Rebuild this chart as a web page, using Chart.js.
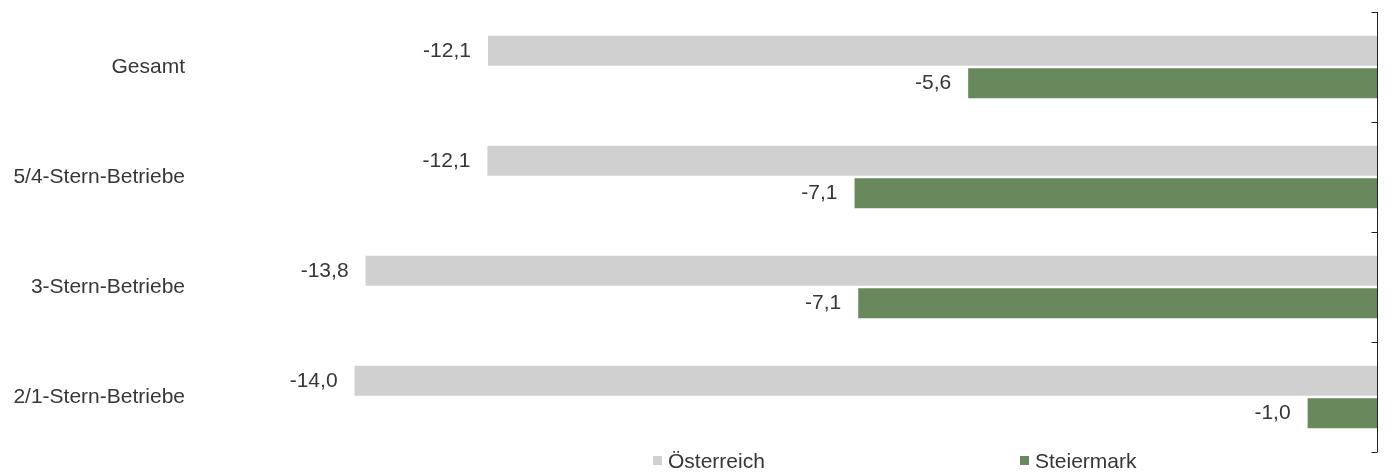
<!DOCTYPE html>
<html>
<head>
<meta charset="utf-8">
<script src="https://cdn.jsdelivr.net/npm/chart.js@4"></script>
<style>
html, body { margin: 0; padding: 0; background: #fff; }
</style>
</head>
<body>
<canvas id="barChart" width="1391" height="476"></canvas>
<script>
const categories = ['Gesamt', '5/4-Stern-Betriebe', '3-Stern-Betriebe', '2/1-Stern-Betriebe'];
const seriesNames = ['Österreich', 'Steiermark'];
const oesterreich = [-12.14, -12.148, -13.81, -13.96];
const steiermark = [-5.59, -7.14, -7.09, -0.96];
const seriesColors = ['#d0d0d0', '#67895b'];
const xMin = -16;
const xMax = 0;

const fontFamily = "'Liberation Sans', Arial, sans-serif";
const textColor = '#363636';

// axis line on the right (at 0) with inward ticks between the categories
const rightAxis = {
    id: 'rightAxis',
    afterDatasetsDraw(chart) {
        const {ctx, chartArea, scales} = chart;
        const x0 = Math.round(scales.x.getPixelForValue(0)) - 0.5;
        ctx.save();
        ctx.strokeStyle = '#222';
        ctx.lineWidth = 1;
        ctx.beginPath();
        ctx.moveTo(x0, chartArea.top);
        ctx.lineTo(x0, chartArea.bottom);
        for (let i = 0; i <= categories.length; i++) {
            const y = Math.round(scales.y.getPixelForValue(i - 0.5)) + 0.5;
            ctx.moveTo(x0 - 6, y);
            ctx.lineTo(x0, y);
        }
        ctx.stroke();
        ctx.restore();
    }
};

// value labels left of each bar end
const valueLabels = {
    id: 'valueLabels',
    afterDatasetsDraw(chart) {
        const ctx = chart.ctx;
        ctx.save();
        ctx.font = '21px ' + fontFamily;
        ctx.fillStyle = textColor;
        ctx.textAlign = 'right';
        ctx.textBaseline = 'middle';
        chart.data.datasets.forEach((ds, i) => {
            chart.getDatasetMeta(i).data.forEach((bar, j) => {
                const txt = ds.data[j].toFixed(1).replace('.', ',');
                ctx.fillText(txt, bar.x - 17, bar.y);
            });
        });
        ctx.restore();
    }
};

// legend spread out along the bottom like the original
const spreadLegend = {
    id: 'spreadLegend',
    afterDraw(chart) {
        const ctx = chart.ctx;
        const xs = [653, 1020];
        const y = 461;
        ctx.save();
        ctx.font = '21px ' + fontFamily;
        ctx.textBaseline = 'middle';
        ctx.textAlign = 'left';
        chart.data.datasets.forEach((ds, i) => {
            ctx.fillStyle = ds.backgroundColor;
            ctx.fillRect(xs[i], y - 5, 9, 9);
            ctx.fillStyle = textColor;
            ctx.fillText(ds.label, xs[i] + 15, y + 1);
        });
        ctx.restore();
    }
};

new Chart(document.getElementById('barChart'), {
    type: 'bar',
    data: {
        labels: categories,
        datasets: [
            {label: seriesNames[0], data: oesterreich, backgroundColor: seriesColors[0]},
            {label: seriesNames[1], data: steiermark, backgroundColor: seriesColors[1]}
        ]
    },
    options: {
        indexAxis: 'y',
        responsive: false,
        animation: false,
        devicePixelRatio: 1,
        categoryPercentage: 0.59,
        barPercentage: 0.92,
        layout: {padding: {top: 12, right: 13, bottom: 24, left: 0}},
        scales: {
            x: {min: xMin, max: xMax, display: false},
            y: {
                position: 'left',
                grid: {display: false},
                border: {display: false},
                ticks: {
                    padding: 12,
                    color: textColor,
                    font: {size: 21, family: fontFamily}
                },
                afterFit(scale) {
                    scale.width = 205;
                    scale.paddingTop = 0;
                    scale.paddingBottom = 0;
                }
            }
        },
        plugins: {
            legend: {display: false},
            tooltip: {enabled: false}
        }
    },
    plugins: [rightAxis, valueLabels, spreadLegend]
});
</script>
</body>
</html>
